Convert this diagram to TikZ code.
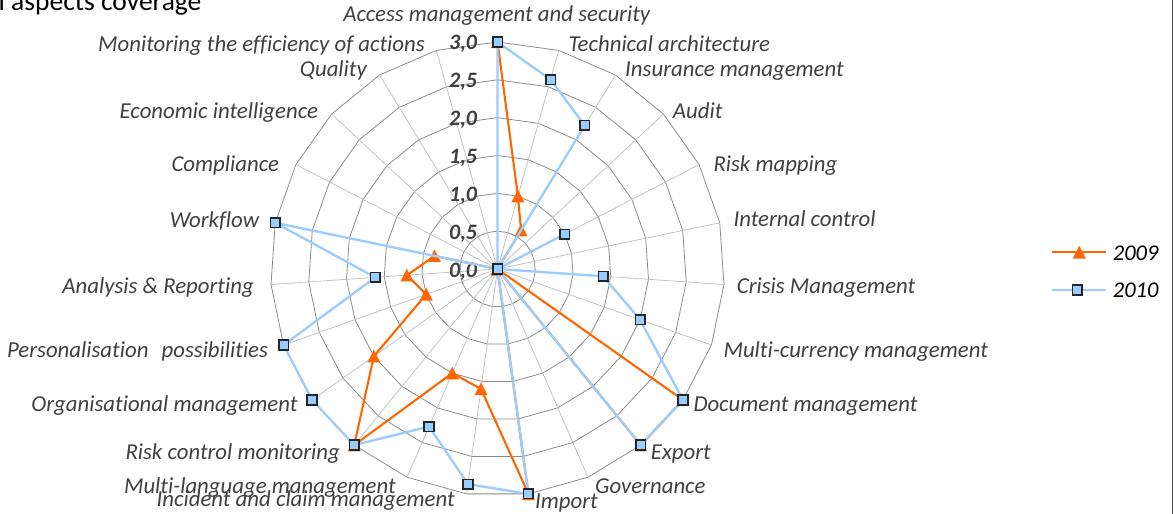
\documentclass[tikz,border=0pt]{standalone}
\usepackage{fontspec}
\setmainfont{Carlito}[Ligatures={NoCommon,NoContextual}, Contextuals=NoAlternate]
\definecolor{orng}{RGB}{255,102,0}
\definecolor{lblue}{RGB}{153,204,255}
\definecolor{mkbd}{RGB}{38,38,38}
\definecolor{txt}{RGB}{64,64,64}
\definecolor{ringc}{RGB}{140,140,140}
\definecolor{spokec}{RGB}{195,195,195}
\definecolor{framec}{RGB}{80,80,80}
\begin{document}
\begin{tikzpicture}[x=1pt,y=-1pt,
  lbl/.style={font=\fontsize{22.8}{26}\selectfont\itshape, text=txt, inner sep=0pt},
  num/.style={font=\fontsize{22}{26}\selectfont\bfseries\itshape, text=txt, inner sep=0pt},
  leg/.style={font=\fontsize{22.5}{26}\selectfont\itshape, text=black, inner sep=0pt},
  ring/.style={draw=ringc, line width=0.8pt},
  spoke/.style={draw=spokec, line width=0.8pt},
  s09/.style={draw=orng, line width=2.1pt, line join=round},
  s10/.style={draw=lblue, line width=2.3pt, line join=round},
  sq/.style={rectangle, draw=mkbd, fill=lblue, line width=1.6pt, minimum size=9.6pt, inner sep=0pt},
  tri/.style={fill=orng}
]
\useasboundingbox (0,0) rectangle (1173,514);
\def\cx{497.5}
\def\cy{269}
\def\U{75.67}
\coordinate (C) at (\cx,\cy);
% grid rings
\foreach \r in {1,...,6} {
  \draw[ring] ({\cx},{\cy-\r*0.5*\U})
    \foreach \i in {1,...,22} { -- ({\cx+\r*0.5*\U*sin(\i*360/23)},{\cy-\r*0.5*\U*cos(\i*360/23)}) } -- cycle;
}
% spokes
\foreach \i in {0,...,22} {
  \coordinate (o\i) at ({\cx+3*\U*sin(\i*360/23)},{\cy-3*\U*cos(\i*360/23)});
  \draw[spoke] (C) -- (o\i);
}
% axis numbers
\foreach \k/\t in {0/{0,0},1/{0,5},2/{1,0},3/{1,5},4/{2,0},5/{2,5},6/{3,0}} {
  \node[num, anchor=base east] (n\k) at (477.3,{\cy-\k*0.5*\U+8}) {\t};
}
% data 2009
\foreach \i/\v in {0/3.0,1/1.0,2/0.6,3/0,4/0,5/0,6/0,7/0,8/3.0,9/3.0,10/0,11/3.0,12/1.6,13/1.5,14/3.0,15/2.0,16/1.0,17/1.2,18/0.85,19/0,20/0,21/0,22/0} {
  \coordinate (a\i) at ({\cx+\v*\U*sin(\i*360/23)},{\cy-\v*\U*cos(\i*360/23)});
}
% data 2010
\foreach \i/\v in {0/3.0,1/2.6,2/2.22,3/0,4/1.0,5/0,6/1.4,7/2.0,8/3.0,9/3.0,10/0,11/3.0,12/2.87,13/2.27,14/3.0,15/3.0,16/3.0,17/1.62,18/3.0,19/0,20/0,21/0,22/0} {
  \coordinate (b\i) at ({\cx+\v*\U*sin(\i*360/23)},{\cy-\v*\U*cos(\i*360/23)});
}
\draw[s09] (a0) \foreach \i in {1,...,22} { -- (a\i) };
\foreach \i in {0,...,22} {
  \fill[tri, shift={(a\i)}] (-6.5,6.2) -- (6.5,6.2) -- (0,-6.5) -- cycle;
}
\draw[s10] (b0) \foreach \i in {1,...,22} { -- (b\i) } -- cycle;
\foreach \i in {0,...,22} {
  \node[sq] (m\i) at (b\i) {};
}
% axis labels
\node[lbl, anchor=base] (L0) at (496.7,21.7) {Access management and security};
\node[lbl, anchor=base west] (L1) at (568.3,51.7) {Technical architecture};
\node[lbl, anchor=base west] (L2) at (625,76) {Insurance management};
\node[lbl, anchor=base west] (L3) at (672.7,118.3) {Audit};
\node[lbl, anchor=base west] (L4) at (713.3,171.7) {Risk mapping};
\node[lbl, anchor=base west] (L5) at (733.3,226.7) {Internal control};
\node[lbl, anchor=base west] (L6) at (736.7,293.3) {Crisis Management};
\node[lbl, anchor=base west] (L7) at (723.3,357.3) {Multi-currency management};
\node[lbl, anchor=base west] (L8) at (693.3,411) {Document management};
\node[lbl, anchor=base west] (L9) at (650.7,459.3) {Export};
\node[lbl, anchor=base west] (L10) at (595,493.3) {Governance};
\node[lbl, anchor=base west] (L11) at (535,508.3) {Import};
\node[lbl, anchor=base east] (L12) at (455,506.7) {Incident and claim management};
\node[lbl, anchor=base east] (L13) at (396,493.3) {Multi-language management};
\node[lbl, anchor=base east] (L14) at (340,459.3) {Risk control monitoring};
\node[lbl, anchor=base east] (L15) at (297.7,411) {Organisational management};
\node[lbl, anchor=base east] (L16) at (268.3,357.3) {Personalisation\hspace{0.35em} possibilities};
\node[lbl, anchor=base east] (L17) at (254,293.3) {Analysis \& Reporting};
\node[lbl, anchor=base east] (L18) at (259.3,227.7) {Workflow};
\node[lbl, anchor=base east] (L19) at (279.3,171.7) {Compliance};
\node[lbl, anchor=base east] (L20) at (318.3,118.3) {Economic intelligence};
\node[lbl, anchor=base east] (L21) at (367,76) {Quality};
\node[lbl, anchor=base east] (L22) at (425,51.7) {Monitoring the efficiency of actions};
% title (cut off)
\node[anchor=base west, inner sep=0pt, font=\fontsize{27.5}{30}\selectfont] (title) at (-1.5,10) {l aspects coverage};
% legend
\coordinate (la1) at (1051.7,252.3);
\coordinate (la2) at (1106,252.3);
\coordinate (la3) at (1079.3,252.3);
\coordinate (lb1) at (1051.7,290);
\coordinate (lb2) at (1106,290);
\draw[s09] (la1) -- (la2);
\fill[tri, shift={(la3)}] (-6.5,6.2) -- (6.5,6.2) -- (0,-6.5) -- cycle;
\node[leg, anchor=base west] (leg1) at (1112.7,260) {2009};
\draw[s10] (lb1) -- (lb2);
\node[sq] (legsq) at (1077.3,290) {};
\node[leg, anchor=base west] (leg2) at (1112.7,297.3) {2010};
% right frame edge
\coordinate (f1) at (1172.2,0);
\coordinate (f2) at (1172.2,514);
\draw[framec, line width=1.4pt] (f1) -- (f2);
\end{tikzpicture}
\end{document}
